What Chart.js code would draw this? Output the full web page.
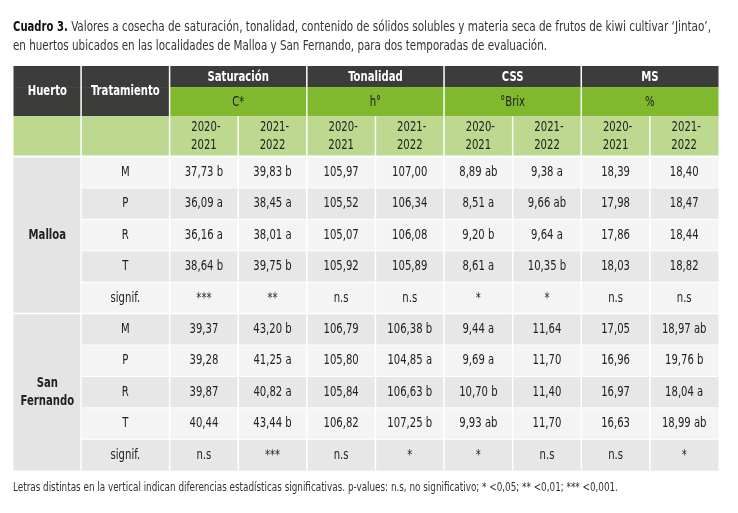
<!DOCTYPE html>
<html>
<head>
<meta charset="utf-8">
<script src="https://cdn.jsdelivr.net/npm/chart.js@4.4.0/dist/chart.umd.min.js"></script>
<style>
body { margin: 0; background: #fff; }
#wrap { width: 738px; height: 513px; position: relative; }
</style>
</head>
<body>
<div id="wrap"><canvas id="mycanvas"></canvas></div>
<script>
var huertos = ['Malloa', 'San Fernando'];
var tratamientos = ['M', 'P', 'R', 'T', 'signif.'];
var variables = ['Saturación', 'Tonalidad', 'CSS', 'MS'];
var unidades = ['C*', 'h°', '°Brix', '%'];
var temporadas = ['2020-2021', '2021-2022'];

// columnas: C* 20-21, C* 21-22, h° 20-21, h° 21-22, °Brix 20-21, °Brix 21-22, MS 20-21, MS 21-22
// filas: M, P, R, T
var malloa = [
	[37.73, 36.09, 36.16, 38.64],
	[39.83, 38.45, 38.01, 39.75],
	[105.97, 105.52, 105.07, 105.92],
	[107.00, 106.34, 106.08, 105.89],
	[8.89, 8.51, 9.20, 8.61],
	[9.38, 9.66, 9.64, 10.35],
	[18.39, 17.98, 17.86, 18.03],
	[18.40, 18.47, 18.44, 18.82]
];
var malloaLetras = [
	['b', 'a', 'a', 'b'],
	['b', 'a', 'a', 'b'],
	['', '', '', ''],
	['', '', '', ''],
	['ab', 'a', 'b', 'a'],
	['a', 'ab', 'a', 'b'],
	['', '', '', ''],
	['', '', '', '']
];
var malloaSignif = ['***', '**', 'n.s', 'n.s', '*', '*', 'n.s', 'n.s'];

var sanFernando = [
	[39.37, 39.28, 39.87, 40.44],
	[43.20, 41.25, 40.82, 43.44],
	[106.79, 105.80, 105.84, 106.82],
	[106.38, 104.85, 106.63, 107.25],
	[9.44, 9.69, 10.70, 9.93],
	[11.64, 11.70, 11.40, 11.70],
	[17.05, 16.96, 16.97, 16.63],
	[18.97, 19.76, 18.04, 18.99]
];
var sanFernandoLetras = [
	['', '', '', ''],
	['b', 'a', 'a', 'b'],
	['', '', '', ''],
	['b', 'a', 'b', 'b'],
	['a', 'a', 'b', 'ab'],
	['', '', '', ''],
	['', '', '', ''],
	['ab', 'b', 'a', 'ab']
];
var sanFernandoSignif = ['n.s', '***', 'n.s', '*', '*', 'n.s', 'n.s', '*'];

// layout of the grid (in scale units: one data column wide, one data row tall)
var colW = [0.985, 1.29, 1, 1, 1, 1, 1, 1, 1, 1];
var rowH = [0.67, 0.93, 1.28, 1, 1, 1, 1, 1, 1, 1, 1, 1, 1];
var xE = [0], yE = [0];
colW.forEach(function(w) { xE.push(xE[xE.length - 1] + w); });
rowH.forEach(function(h) { yE.push(yE[yE.length - 1] + h); });

var FONT = '"Liberation Sans Narrow", "DejaVu Sans Condensed", sans-serif';
var SX = 0.8; // horizontal squeeze, the original uses a condensed face
var DARK = '#3c3c3b', GREEN = '#80b92e', LIGHTGREEN = '#bdd88f';
var ROW_A = '#f4f4f4', ROW_B = '#e7e7e7', HUERTO_BG = '#e4e4e4', TEXT = '#222';

function fmt(v) { return v.toFixed(2).replace('.', ','); }

var datasets = [];
[[malloa, malloaLetras, malloaSignif], [sanFernando, sanFernandoLetras, sanFernandoSignif]].forEach(function(h, hi) {
	for (var c = 0; c < 8; c++) {
		var pts = [], labels = [];
		for (var r = 0; r < 4; r++) {
			pts.push({ x: xE[c + 2] + 0.5, y: yE[3] + hi * 5 + r + 0.5 });
			labels.push(fmt(h[0][c][r]) + (h[1][c][r] ? ' ' + h[1][c][r] : ''));
		}
		pts.push({ x: xE[c + 2] + 0.5, y: yE[3] + hi * 5 + 4 + 0.5 });
		labels.push(h[2][c]);
		datasets.push({ data: pts, cellLabels: labels, pointRadius: 0, showLine: false });
	}
});

function txt(ctx, s, x, y, font, color, align, maxW) {
	ctx.save();
	ctx.font = font;
	ctx.fillStyle = color;
	ctx.textAlign = align || 'center';
	ctx.textBaseline = 'middle';
	if (maxW) {
		ctx.fillText(s, x, y, maxW);
	} else {
		ctx.translate(x, y);
		ctx.scale(SX, 1);
		ctx.fillText(s, 0, 0);
	}
	ctx.restore();
}

var tablePlugin = {
	id: 'tabla',
	beforeDatasetsDraw: function(chart) {
		var ctx = chart.ctx, xs = chart.scales.x, ys = chart.scales.y;
		function X(v) { return xs.getPixelForValue(v); }
		function Y(v) { return ys.getPixelForValue(v); }
		function rect(x0, x1, y0, y1, col) {
			ctx.fillStyle = col;
			ctx.fillRect(X(x0), Y(y0), X(x1) - X(x0), Y(y1) - Y(y0));
		}
		var xEnd = xE[xE.length - 1], yEnd = yE[yE.length - 1];
		ctx.save();
		rect(0, xEnd, 0, yE[1], DARK);
		rect(0, xE[2], yE[1], yE[2], DARK);
		rect(xE[2], xEnd, yE[1], yE[2], GREEN);
		rect(0, xEnd, yE[2], yE[3], LIGHTGREEN);
		for (var i = 0; i < 10; i++) {
			rect(xE[1], xEnd, yE[3] + i, yE[3] + i + 1, i % 2 ? ROW_B : ROW_A);
		}
		rect(0, xE[1], yE[3], yEnd, HUERTO_BG);

		ctx.strokeStyle = '#ffffff';
		function line(x0, y0, x1, y1, w) {
			ctx.lineWidth = w;
			ctx.beginPath();
			ctx.moveTo(X(x0), Y(y0));
			ctx.lineTo(X(x1), Y(y1));
			ctx.stroke();
		}
		[1, 2, 4, 6, 8].forEach(function(k) { line(xE[k], 0, xE[k], yEnd, 1.5); });
		[3, 5, 7, 9].forEach(function(k) { line(xE[k], yE[2], xE[k], yEnd, 1.5); });
		line(0, yE[3], xEnd, yE[3], 2);
		for (var j = 1; j < 10; j++) {
			line(j === 5 ? 0 : xE[1], yE[3] + j, xEnd, yE[3] + j, j === 5 ? 1.5 : 1);
		}
		ctx.restore();
	},
	afterDatasetsDraw: function(chart) {
		var ctx = chart.ctx, xs = chart.scales.x, ys = chart.scales.y;
		function X(v) { return xs.getPixelForValue(v); }
		function Y(v) { return ys.getPixelForValue(v); }
		var bold = 'bold 14px ' + FONT, reg = '14px ' + FONT;
		// header
		var yHead = Y(yE[2] / 2);
		txt(ctx, 'Huerto', X(xE[1] / 2), yHead, bold, '#fff');
		txt(ctx, 'Tratamiento', X((xE[1] + xE[2]) / 2), yHead, bold, '#fff');
		for (var v = 0; v < 4; v++) {
			var cx = X(xE[2 + v * 2] + 1);
			txt(ctx, variables[v], cx, Y(yE[1] / 2) + 0.5, bold, '#fff');
			txt(ctx, unidades[v], cx, Y((yE[1] + yE[2]) / 2) + 1, reg, TEXT);
			for (var t = 0; t < 2; t++) {
				var tx = X(xE[2 + v * 2 + t] + 0.5);
				var parts = temporadas[t].split('-');
				var ym = Y((yE[2] + yE[3]) / 2);
				txt(ctx, parts[0] + '-', tx + 2, ym - 9, reg, TEXT);
				txt(ctx, parts[1], tx, ym + 9, reg, TEXT);
			}
		}
		// row labels
		for (var h = 0; h < 2; h++) {
			for (var r = 0; r < 5; r++) {
				txt(ctx, tratamientos[r], X((xE[1] + xE[2]) / 2), Y(yE[3] + h * 5 + r + 0.5), reg, TEXT);
			}
			var hy = Y(yE[3] + h * 5 + 2.5);
			var words = huertos[h].split(' ');
			if (words.length === 1) {
				txt(ctx, words[0], X(xE[1] / 2), hy, bold, TEXT);
			} else {
				txt(ctx, words[0], X(xE[1] / 2), hy - 9, bold, TEXT);
				txt(ctx, words[1], X(xE[1] / 2), hy + 9, bold, TEXT);
			}
		}
		// cell values
		chart.data.datasets.forEach(function(ds, di) {
			var meta = chart.getDatasetMeta(di);
			meta.data.forEach(function(el, k) {
				txt(ctx, ds.cellLabels[k], el.x, el.y, reg, TEXT);
			});
		});
	},
	afterDraw: function(chart) {
		var ctx = chart.ctx;
		var lead = 'Cuadro 3.';
		ctx.font = 'bold 14px ' + FONT;
		var bw = ctx.measureText(lead).width * SX;
		txt(ctx, lead, 13, 27, 'bold 14px ' + FONT, '#111', 'left');
		txt(ctx, ' Valores a cosecha de saturación, tonalidad, contenido de sólidos solubles y materia seca de frutos de kiwi cultivar \u2018Jintao\u2019,',
			13 + bw, 27, '14px ' + FONT, '#333', 'left', 711 - 13 - bw);
		txt(ctx, 'en huertos ubicados en las localidades de Malloa y San Fernando, para dos temporadas de evaluación.',
			13, 46, '14px ' + FONT, '#333', 'left', 534);
		txt(ctx, 'Letras distintas en la vertical indican diferencias estadísticas significativas. p-values: n.s, no significativo; * <0,05; ** <0,01; *** <0,001.',
			13, 488, '12px ' + FONT, '#333', 'left', 605);
	}
};

var ctx = document.getElementById('mycanvas');
var tabla = new Chart(ctx, {
	type: 'scatter',
	data: { datasets: datasets },
	options: {
		responsive: true,
		maintainAspectRatio: false,
		animation: false,
		events: [],
		layout: { padding: { left: 13.5, right: 19.5, top: 66, bottom: 42.3 } },
		plugins: { legend: { display: false }, tooltip: { enabled: false } },
		scales: {
			x: { type: 'linear', min: 0, max: xE[xE.length - 1], display: false },
			y: { type: 'linear', min: 0, max: yE[yE.length - 1], reverse: true, display: false }
		}
	},
	plugins: [tablePlugin]
});
</script>
</body>
</html>
